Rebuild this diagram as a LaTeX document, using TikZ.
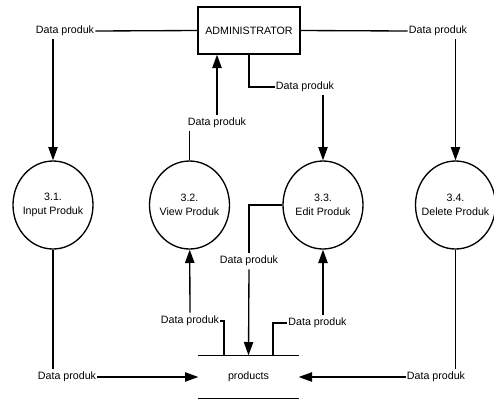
\documentclass[tikz,border=0pt]{standalone}
\usepackage{fontspec}
\setmainfont{Liberation Sans}
\usetikzlibrary{shapes.geometric,arrows.meta}

\tikzset{every picture/.style={line width=1pt}}
\tikzset{
  proc/.style={draw, ellipse, minimum width=60pt, minimum height=66pt, inner sep=0pt},
  ent/.style={draw, rectangle, minimum width=76.5pt, minimum height=35.25pt, inner sep=0.75pt},
  store/.style={rectangle, minimum width=74.25pt, minimum height=31.5pt, inner sep=0.75pt},
  flow/.style={inner xsep=0.5pt, inner ysep=2pt},
}

\begin{document}
\begin{tikzpicture}[x=0.75pt,y=0.75pt,yscale=-1,xscale=1, font=\fontsize{8}{10.5}\selectfont, >={Triangle[length=10pt,width=7pt]}]
\useasboundingbox (0,0) rectangle (494,401);

% External Entity
\node [ent] (admin) at (249,30.5) {ADMINISTRATOR};

%Shape: Ellipse
\node [proc] (p31) at (53,205) {};
\node [align=center] (t31) at (p31) {3.1.\\Input Produk};
%Shape: Ellipse
\node [proc] (p32) at (189.5,205) {};
\node [align=center] (t32) at (p32) {3.2.\\View Produk};
%Shape: Ellipse
\node [proc] (p33) at (323,205) {};
\node [align=center] (t33) at (p33) {3.3.\\Edit Produk};
%Shape: Ellipse
\node [proc] (p34) at (455.5,205) {};
\node [align=center] (t34) at (p34) {3.4.\\Delete Produk};

% Data Store
\node [store] (store) at (248.5,377) {products};
\draw (store.north west) -- (store.north east);
\draw (store.south west) -- (store.south east);
\coordinate (s2) at (224,356);
\coordinate (s3) at (273,356);

% Text Node
\node [flow] (l1) at (65,31) {Data produk};
% Text Node
\node [flow] (l2) at (217,123) {Data produk};
% Text Node
\node [flow] (l3) at (305,87) {Data produk};
% Text Node
\node [flow] (l4) at (438,31) {Data produk};
% Text Node
\node [flow] (l5) at (67,377) {Data produk};
% Text Node
\node [flow] (l6) at (436,377) {Data produk};
% Text Node
\node [flow] (l7) at (190,321) {Data produk};
% Text Node
\node [flow] (l8) at (317.5,323) {Data produk};
% Text Node
\node [flow] (l9) at (249,261) {Data produk};

%Straight Lines
\draw (admin.west) -- (l1.east);
\draw [->] (p31 |- l1.south) -- (p31);
%Straight Lines
\draw (admin.east) -- (l4.west);
\draw [->] (p34 |- l4.south) -- (p34);
%Straight Lines
\draw (admin.south) |- (l3.west);
\draw [->] (p33 |- l3.south) -- (p33);
%Straight Lines
\draw (p32) -- (p32 |- l2.south);
\draw [->] (l2.north) -- (l2.north |- admin.south);
%Straight Lines
\draw (p31) -- (p31 |- l5.north);
\draw [->] (l5.east) -- (store.west);
%Straight Lines
\draw (p34) -- (p34 |- l6.north);
\draw [->] (l6.west) -- (store.east);
%Straight Lines
\draw (s2) |- (l7.east);
\draw [->] (l7.north) -- (p32);
%Straight Lines
\draw (s3) |- (l8.west);
\draw [->] (p33 |- l8.north) -- (p33);
%Straight Lines
\draw (p33.west) -| (l9.north);
\draw [->] (l9.south) -- (store.north);

\end{tikzpicture}
\end{document}
